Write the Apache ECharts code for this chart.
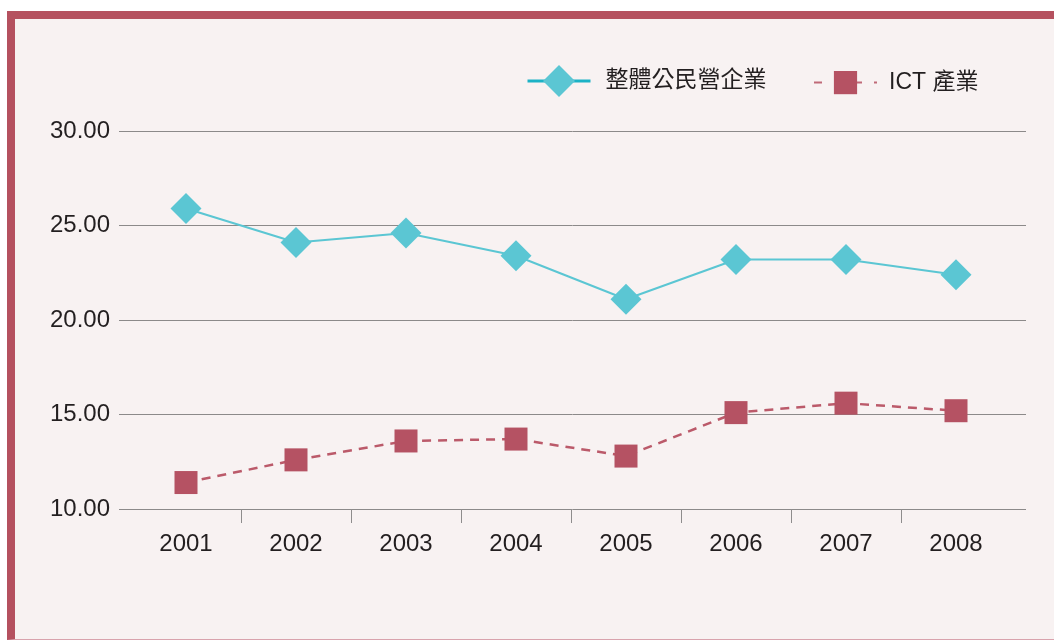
<!DOCTYPE html>
<html>
<head>
<meta charset="utf-8">
<script src="https://cdn.jsdelivr.net/npm/echarts@6/dist/echarts.min.js"></script>
<style>
  html, body { margin: 0; padding: 0; background: #ffffff; }
  #frame {
    position: absolute; left: 7px; top: 11px; width: 1047px; height: 620px;
    background: #f8f2f2;
    border-top: 8px solid #b5515f;
    border-left: 8px solid #b5515f;
    border-bottom: 1px solid #d9a3ad;
    box-sizing: content-box;
  }
  #chart { position: absolute; left: 0; top: 0; width: 1054px; height: 640px; }
</style>
</head>
<body>
<div id="frame"></div>
<div id="chart"></div>
<script>
// Years on the category axis
const years = ['2001', '2002', '2003', '2004', '2005', '2006', '2007', '2008'];
// Series names
const nameAll = '整體公民營企業';
const nameICT = 'ICT 產業';
// Values per year
const valuesAll = [25.9, 24.1, 24.6, 23.4, 21.1, 23.2, 23.2, 22.4];
const valuesICT = [11.4, 12.6, 13.6, 13.7, 12.8, 15.1, 15.6, 15.2];
// Value axis range
const yMin = 10, yMax = 30, yStep = 5;
// Tick marks between the year bands
const bandTicks = [1, 2, 3, 4, 5, 6, 7];

const FONT = "'Liberation Sans', 'Noto Sans CJK TC', sans-serif";
const TEXT = '#231f20';
const TEAL = '#5bc6d3';
const ROSE = '#b55263';
const GRID_LINE = '#8c8a8a';

const chart = echarts.init(document.getElementById('chart'), null, { renderer: 'canvas' });

chart.setOption({
  backgroundColor: 'transparent',
  animation: false,
  textStyle: { fontFamily: FONT },
  legend: [
    {
      left: 526, top: 65, padding: 0,
      itemWidth: 63, itemHeight: 40,
      data: [{
        name: nameAll,
        itemStyle: { color: TEAL },
        lineStyle: { color: '#1cb2c6', width: 3, type: 'solid' }
      }],
      textStyle: { fontFamily: FONT, fontSize: 23, color: TEXT, padding: [0, 0, 0, 10] }
    },
    {
      left: 813, top: 71, padding: 0,
      itemWidth: 63, itemHeight: 29,
      data: [{
        name: nameICT,
        itemStyle: { color: ROSE },
        lineStyle: { color: '#c06a78', width: 2, type: [8, 12], dashOffset: 0 }
      }],
      textStyle: { fontFamily: FONT, fontSize: 23, color: TEXT, padding: [0, 0, 0, 7] }
    }
  ],
  grid: [
    { left: 119, right: 28, top: 131, bottom: 131 },
    { left: 131, right: 43, top: 131, bottom: 131 }
  ],
  xAxis: [
    { gridIndex: 0, type: 'value', min: 0, max: 1, show: false },
    {
      gridIndex: 1, type: 'category', position: 'bottom', data: years,
      boundaryGap: true,
      axisLine: { show: false },
      axisTick: { show: false },
      axisLabel: { fontFamily: FONT, fontSize: 24, color: TEXT, margin: 23 }
    },
    {
      gridIndex: 1, type: 'value', position: 'bottom', min: 0, max: 8,
      axisLine: { show: false },
      axisLabel: { show: false },
      splitLine: { show: false },
      axisTick: {
        show: true, length: 14, customValues: bandTicks,
        lineStyle: { color: '#8f8d8d', width: 1 }
      }
    }
  ],
  yAxis: [
    {
      gridIndex: 0, type: 'value', min: yMin, max: yMax, interval: yStep,
      axisLine: { show: false },
      axisTick: { show: false },
      splitLine: { show: true, lineStyle: { color: GRID_LINE, width: 1 } },
      axisLabel: {
        fontFamily: FONT, fontSize: 24, color: TEXT, margin: 9,
        padding: [6, 0, 0, 0],
        formatter: v => v.toFixed(2)
      }
    },
    {
      gridIndex: 1, type: 'value', min: yMin, max: yMax, interval: yStep,
      show: false, splitLine: { show: false }
    }
  ],
  series: [
    {
      name: nameAll, type: 'line', xAxisIndex: 1, yAxisIndex: 1,
      data: valuesAll,
      symbol: 'diamond', symbolSize: 31,
      itemStyle: { color: TEAL },
      lineStyle: { color: TEAL, width: 2 },
      z: 3
    },
    {
      name: nameICT, type: 'line', xAxisIndex: 1, yAxisIndex: 1,
      data: valuesICT,
      symbol: 'rect', symbolSize: 23,
      itemStyle: { color: ROSE },
      lineStyle: { color: '#bb5a6a', width: 2.5, type: [9, 7] },
      z: 3
    }
  ]
});
</script>
</body>
</html>
